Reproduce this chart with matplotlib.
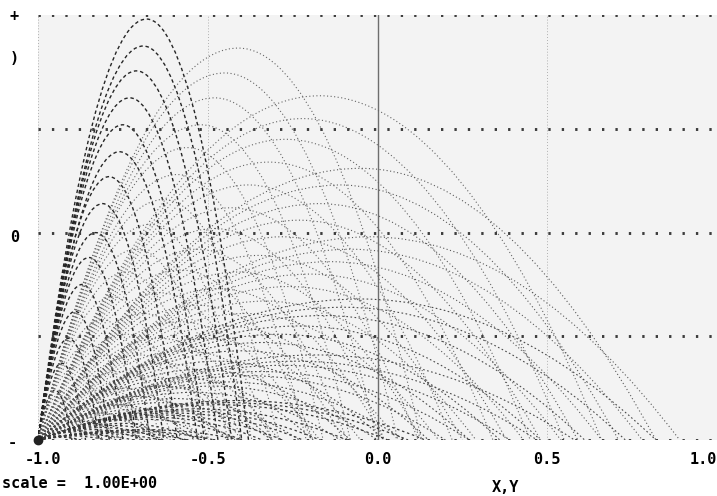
import matplotlib
matplotlib.use('Agg')
import matplotlib.pyplot as plt
from matplotlib.path import Path
from matplotlib.patches import PathPatch

# launch point shared by every trajectory
launch_x, launch_y = -1.0, -1.0

# apex x, apex y and landing x of each trajectory, one family per launch
# angle, fastest shot first
a_apex_x = [-0.68, -0.69, -0.71, -0.73, -0.75, -0.76, -0.79, -0.81, -0.83,
            -0.85, -0.87, -0.89, -0.91, -0.93, -0.95]
a_apex_y = [1.03, 0.90, 0.78, 0.65, 0.52, 0.39, 0.27, 0.14, 0.0, -0.12,
            -0.25, -0.38, -0.51, -0.63, -0.76]
a_land_x = [-0.38, -0.40, -0.43, -0.47, -0.51, -0.53, -0.59, -0.63, -0.67,
            -0.71, -0.75, -0.79, -0.82, -0.86, -0.90]

b_apex_x = [-0.41, -0.45, -0.48, -0.52, -0.56, -0.59, -0.63, -0.67, -0.71,
            -0.74, -0.78, -0.81, -0.85, -0.89, -0.93]
b_apex_y = [0.89, 0.77, 0.65, 0.52, 0.41, 0.28, 0.16, 0.04, -0.08, -0.19,
            -0.31, -0.42, -0.54, -0.65, -0.77]
b_land_x = [0.13, 0.06, 0.00, -0.08, -0.16, -0.21, -0.29, -0.37, -0.44,
            -0.50, -0.58, -0.64, -0.71, -0.79, -0.87]

c_apex_x = [-0.17, -0.22, -0.27, -0.32, -0.38, -0.43, -0.48, -0.53, -0.58,
            -0.64, -0.69, -0.74, -0.79, -0.84, -0.90]
c_apex_y = [0.66, 0.55, 0.45, 0.34, 0.23, 0.12, 0.02, -0.08, -0.18, -0.29,
            -0.39, -0.49, -0.59, -0.69, -0.80]
c_land_x = [0.66, 0.55, 0.45, 0.34, 0.22, 0.12, 0.02, -0.09, -0.19, -0.31,
            -0.40, -0.50, -0.60, -0.70, -0.81]

d_apex_x = [-0.05, -0.11, -0.17, -0.23, -0.28, -0.35, -0.41, -0.47, -0.53,
            -0.58, -0.64, -0.70, -0.76, -0.82, -0.88]
d_apex_y = [0.31, 0.23, 0.14, 0.06, -0.02, -0.11, -0.19, -0.27, -0.35,
            -0.43, -0.51, -0.59, -0.67, -0.76, -0.84]
d_land_x = [0.82, 0.71, 0.59, 0.48, 0.38, 0.25, 0.13, 0.02, -0.10, -0.19,
            -0.31, -0.42, -0.54, -0.65, -0.77]

e_apex_x = [-0.02, -0.08, -0.14, -0.20, -0.26, -0.33, -0.39, -0.45, -0.51,
            -0.57, -0.63, -0.69, -0.75, -0.82, -0.88]
e_apex_y = [-0.02, -0.08, -0.14, -0.20, -0.26, -0.33, -0.39, -0.45, -0.51,
            -0.57, -0.63, -0.69, -0.75, -0.82, -0.88]
e_land_x = [0.89, 0.78, 0.66, 0.54, 0.43, 0.29, 0.18, 0.06, -0.05, -0.17,
            -0.29, -0.40, -0.52, -0.65, -0.77]

f_apex_x = [-0.05, -0.10, -0.16, -0.23, -0.29, -0.34, -0.40, -0.47, -0.52,
            -0.58, -0.64, -0.71, -0.76, -0.82, -0.87]
f_apex_y = [-0.32, -0.36, -0.40, -0.45, -0.49, -0.53, -0.57, -0.62, -0.66,
            -0.70, -0.74, -0.79, -0.83, -0.87, -0.91]
f_land_x = [0.82, 0.73, 0.61, 0.48, 0.36, 0.27, 0.15, 0.02, -0.08, -0.19,
            -0.31, -0.44, -0.54, -0.65, -0.75]

g_apex_x = [-0.18, -0.24, -0.28, -0.34, -0.38, -0.44, -0.48, -0.54, -0.60,
            -0.64, -0.70, -0.74, -0.80, -0.84, -0.90]
g_apex_y = [-0.59, -0.62, -0.64, -0.67, -0.69, -0.72, -0.74, -0.77, -0.80,
            -0.82, -0.85, -0.87, -0.90, -0.92, -0.95]
g_land_x = [0.58, 0.47, 0.39, 0.27, 0.20, 0.08, 0.00, -0.11, -0.23, -0.31,
            -0.42, -0.50, -0.61, -0.69, -0.81]

h_apex_x = [-0.41, -0.44, -0.47, -0.53, -0.57, -0.60, -0.63, -0.66, -0.69,
            -0.75, -0.78, -0.81, -0.84, -0.88, -0.94]
h_apex_y = [-0.81, -0.82, -0.83, -0.85, -0.86, -0.87, -0.88, -0.89, -0.90,
            -0.92, -0.93, -0.94, -0.95, -0.96, -0.98]
h_land_x = [0.14, 0.09, 0.03, -0.09, -0.17, -0.22, -0.28, -0.34, -0.40,
            -0.52, -0.57, -0.63, -0.69, -0.77, -0.88]

i_apex_x = [-0.69, -0.73, -0.77, -0.81, -0.85, -0.89, -0.93]
i_apex_y = [-0.95, -0.956, -0.962, -0.969, -0.975, -0.981, -0.987]
i_land_x = [-0.40, -0.48, -0.56, -0.64, -0.72, -0.80, -0.88]

x_ticks = [-1.0, -0.5, 0.0, 0.5, 1.0]
x_tick_labels = ['-1.0', '-0.5', '0.0', '0.5', '1.0']
y_grid = [0.5, 0.0, -0.5]
x_grid_light = [-1.0, -0.5, 0.5]

families = [
    (a_apex_x, a_apex_y, a_land_x, '#262626', 1.0, (0, (2.5, 2))),
    (b_apex_x, b_apex_y, b_land_x, '#666666', 0.8, (0, (1, 2.2))),
    (c_apex_x, c_apex_y, c_land_x, '#666666', 0.8, (0, (1, 2.2))),
    (d_apex_x, d_apex_y, d_land_x, '#5a5a5a', 0.8, (0, (1, 2.2))),
    (e_apex_x, e_apex_y, e_land_x, '#5a5a5a', 0.8, (0, (1, 2.2))),
    (f_apex_x, f_apex_y, f_land_x, '#4a4a4a', 0.8, (0, (1.5, 2.2))),
    (g_apex_x, g_apex_y, g_land_x, '#4a4a4a', 0.8, (0, (1.5, 2.2))),
    (h_apex_x, h_apex_y, h_land_x, '#3a3a3a', 0.9, (0, (2, 2.2))),
    (i_apex_x, i_apex_y, i_land_x, '#3a3a3a', 0.9, (0, (2, 2.2))),
]

fig = plt.figure(figsize=(7.17, 4.96), dpi=100)
ax = fig.add_axes([0.053, 0.113, 0.947, 0.857])
ax.set_facecolor('#f3f3f3')
ax.set_xlim(-1.0, 1.0)
ax.set_ylim(-1.0, 1.05)
for s in ax.spines.values():
    s.set_visible(False)
ax.set_xticks([])
ax.set_yticks([])

# grid: coarse dotted horizontals, fine dotted verticals, solid x=0
dots = dict(color='#3c3c3c', lw=2.1, ls=(0, (0.8, 3.8)), zorder=3)
for yv in y_grid:
    ax.axhline(yv, **dots)
ax.axhline(ax.get_ylim()[1], **dots)
ax.axhline(-1.0, **dots)
for xv in x_grid_light:
    ax.axvline(xv, color='#9a9a9a', lw=0.6, ls=(0, (1, 2.5)), zorder=1)
ax.axvline(0.0, color='#6e6e6e', lw=1.0, zorder=1)

# trajectories: parabolic rise to apex, fall to landing point
for apex_x, apex_y, land_x, col, lw, ls in families:
    for xa, ya, xl in zip(apex_x, apex_y, land_x):
        verts = [(launch_x, launch_y), ((launch_x + xa) / 2, ya), (xa, ya),
                 ((xa + xl) / 2, ya), (xl, launch_y)]
        codes = [Path.MOVETO, Path.CURVE3, Path.CURVE3,
                 Path.CURVE3, Path.CURVE3]
        ax.add_patch(PathPatch(Path(verts, codes), fill=False,
                               edgecolor=col, lw=lw, ls=ls, zorder=2))

ax.plot([launch_x], [launch_y], 'o', color='#222222', ms=6, zorder=4,
        clip_on=False)

font = dict(family='DejaVu Sans Mono', fontweight='bold', fontsize=11)
for xv, lab in zip(x_ticks, x_tick_labels):
    ha = 'right' if xv == 1.0 else 'center'
    xpos = xv + 0.015 if xv == -1.0 else xv
    ax.text(xpos, -1.06, lab, ha=ha, va='top', transform=ax.transData,
            clip_on=False, **font)

fig.text(0.003, 0.025, 'scale =  1.00E+00', ha='left', va='center', **font)
fig.text(0.705, 0.018, 'X,Y', ha='center', va='center', **font)
fig.text(0.02, 0.967, '+', ha='center', va='center', **font)
fig.text(0.02, 0.883, ')', ha='center', va='center', **font)
fig.text(0.02, 0.522, '0', ha='center', va='center', **font)
fig.text(0.017, 0.108, '-', ha='center', va='center', **font)

fig.savefig('out.png', dpi=100, facecolor='white')
